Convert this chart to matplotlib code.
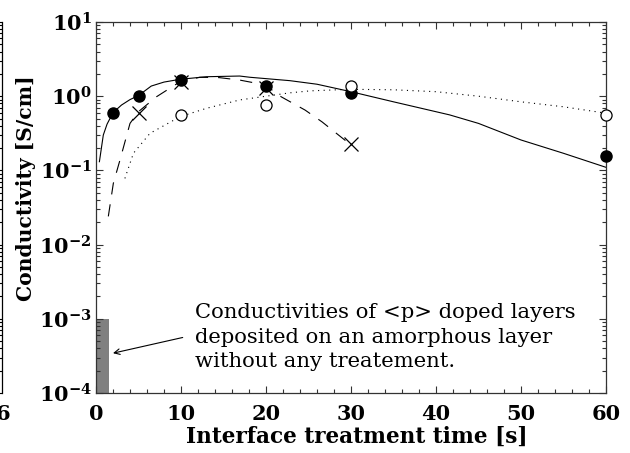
import numpy as np
import matplotlib
matplotlib.use("Agg")
import matplotlib.pyplot as plt
from matplotlib.ticker import FixedLocator, LogLocator, NullFormatter

plt.rcParams['font.family'] = 'DejaVu Serif'
plt.rcParams['mathtext.fontset'] = 'dejavuserif'

# measured points
t_full = [2, 5, 10, 20, 30, 60]
s_full = [0.59, 1.0, 1.65, 1.37, 1.12, 0.155]
t_cross = [5, 10, 20, 30]
s_cross = [0.60, 1.54, 1.30, 0.227]
t_open = [10, 20, 30, 60]
s_open = [0.56, 0.76, 1.37, 0.55]

# fitted curves
fit1_t = [0.4, 0.86, 1.3, 2.0, 3.0, 4.0, 5.0, 6.5, 8.0, 9.9, 13.0, 16.9, 18.1, 22.8, 26.0, 30.0, 35.0, 41.6, 45.0, 50.0, 55.0, 60.0]
fit1_s = [0.131, 0.30, 0.42, 0.60, 0.76, 0.90, 1.02, 1.37, 1.55, 1.69, 1.83, 1.87, 1.80, 1.62, 1.45, 1.15, 0.84, 0.56, 0.43, 0.257, 0.17, 0.11]
fit2_t = [1.45, 2.04, 2.82, 4.0, 5.0, 7.1, 9.9, 12.2, 14.5, 16.9, 19.9, 21.8, 24.6, 26.6, 30.0]
fit2_s = [0.024, 0.067, 0.138, 0.43, 0.62, 0.98, 1.57, 1.80, 1.78, 1.65, 1.42, 0.98, 0.65, 0.45, 0.22]
fit3_t = [3.4, 4.4, 6.35, 9.9, 13.0, 16.9, 20.0, 22.8, 25.2, 29.9, 35.0, 40.0, 45.0, 50.0, 55.0, 60.0]
fit3_s = [0.078, 0.17, 0.316, 0.53, 0.687, 0.89, 1.0, 1.11, 1.18, 1.24, 1.22, 1.15, 1.0, 0.84, 0.72, 0.59]

# untreated layers
bar_x = 0
bar_w = 1.55
bar_lo = 1e-4
bar_hi = 1e-3

fig = plt.figure(figsize=(6.3, 4.53), dpi=100)
W, H = 630, 453
pos = [96/W, 1-393/H, 510/W, 371/H]
ax = fig.add_axes(pos)

ax.bar(bar_x, bar_hi-bar_lo, width=bar_w, bottom=bar_lo, align='edge', color='#808080', zorder=1)

ax.plot(fit1_t, fit1_s, '-', color='k', lw=0.8)
ax.plot(fit2_t, fit2_s, color='k', lw=0.8, linestyle=(0, (11, 9)))
ax.plot(fit3_t, fit3_s, color='k', lw=0.8, linestyle=(0, (1, 4)))

ax.plot(t_full, s_full, 'o', color='k', ms=8, clip_on=False, zorder=5)
ax.plot(t_cross, s_cross, 'x', color='k', ms=10, mew=0.9, clip_on=False, zorder=5)
ax.plot(t_open, s_open, 'o', mfc='white', mec='k', mew=0.9, ms=8, clip_on=False, zorder=5)

ax.set_yscale('log')
ax.set_xlim(0, 60)
ax.set_ylim(1e-4, 1e1)
ax.set_xticks([0, 10, 20, 30, 40, 50, 60])
ax.xaxis.set_minor_locator(FixedLocator(np.arange(0, 61, 2)))
ax.yaxis.set_minor_locator(LogLocator(base=10, subs=np.arange(2, 10), numticks=20))
ax.yaxis.set_minor_formatter(NullFormatter())
ax.set_yticks([1e-4, 1e-3, 1e-2, 1e-1, 1e0, 1e1])
ax.set_yticklabels([r'$\mathbf{10^{-4}}$', r'$\mathbf{10^{-3}}$', r'$\mathbf{10^{-2}}$',
                    r'$\mathbf{10^{-1}}$', r'$\mathbf{10^{0}}$', r'$\mathbf{10^{1}}$'])
ax.set_xticklabels(['0', '10', '20', '30', '40', '50', '60'], fontweight='bold')
ax.tick_params(which='both', direction='in', top=True, right=True, width=0.8, color='#333333')
ax.tick_params(which='major', length=5, labelsize=15)
ax.tick_params(which='minor', length=3)
ax.tick_params(axis='x', pad=8)
ax.tick_params(axis='y', pad=3)
for sp in ax.spines.values():
    sp.set_linewidth(0.9)
    sp.set_color('#333333')

ax.set_xlabel('Interface treatment time [s]', fontsize=15.6, fontweight='bold')
ax.set_ylabel('Conductivity [S/cm]', fontsize=14.6, fontweight='bold')
ax.xaxis.set_label_coords((357 - 96) / 510, (393 - 426) / 371)
ax.yaxis.set_label_coords((36 - 96) / 510, (393 - 188) / 371)

ax.text(195/W, 1-303/H, 'Conductivities of <p> doped layers\ndeposited on an amorphous layer\nwithout any treatement.',
        transform=fig.transFigure, ha='left', va='top', fontsize=15.2, linespacing=1.38)
ax.annotate('', xy=(2.0, 3.44e-4), xytext=(10.2, 5.6e-4),
            arrowprops=dict(arrowstyle='->', color='k', lw=0.8, shrinkA=0, shrinkB=0))

# edge of the neighbouring panel
ax0 = fig.add_axes([2/W - 0.5, pos[1], 0.5, pos[3]])
ax0.set_yscale('log')
ax0.set_ylim(1e-4, 1e1)
ax0.set_xticks([])
ax0.yaxis.set_minor_locator(LogLocator(base=10, subs=np.arange(2, 10), numticks=20))
ax0.tick_params(which='both', direction='in', left=False, right=True, labelleft=False, width=0.8)
ax0.tick_params(which='major', length=5)
ax0.tick_params(which='minor', length=3)
for k in ['left', 'top', 'bottom']:
    ax0.spines[k].set_visible(False)
ax0.spines['right'].set_linewidth(0.9)
fig.text(10/W, 1-414/H, '6', ha='right', va='center', fontsize=15, fontweight='bold')

fig.savefig('out.png', dpi=100)
